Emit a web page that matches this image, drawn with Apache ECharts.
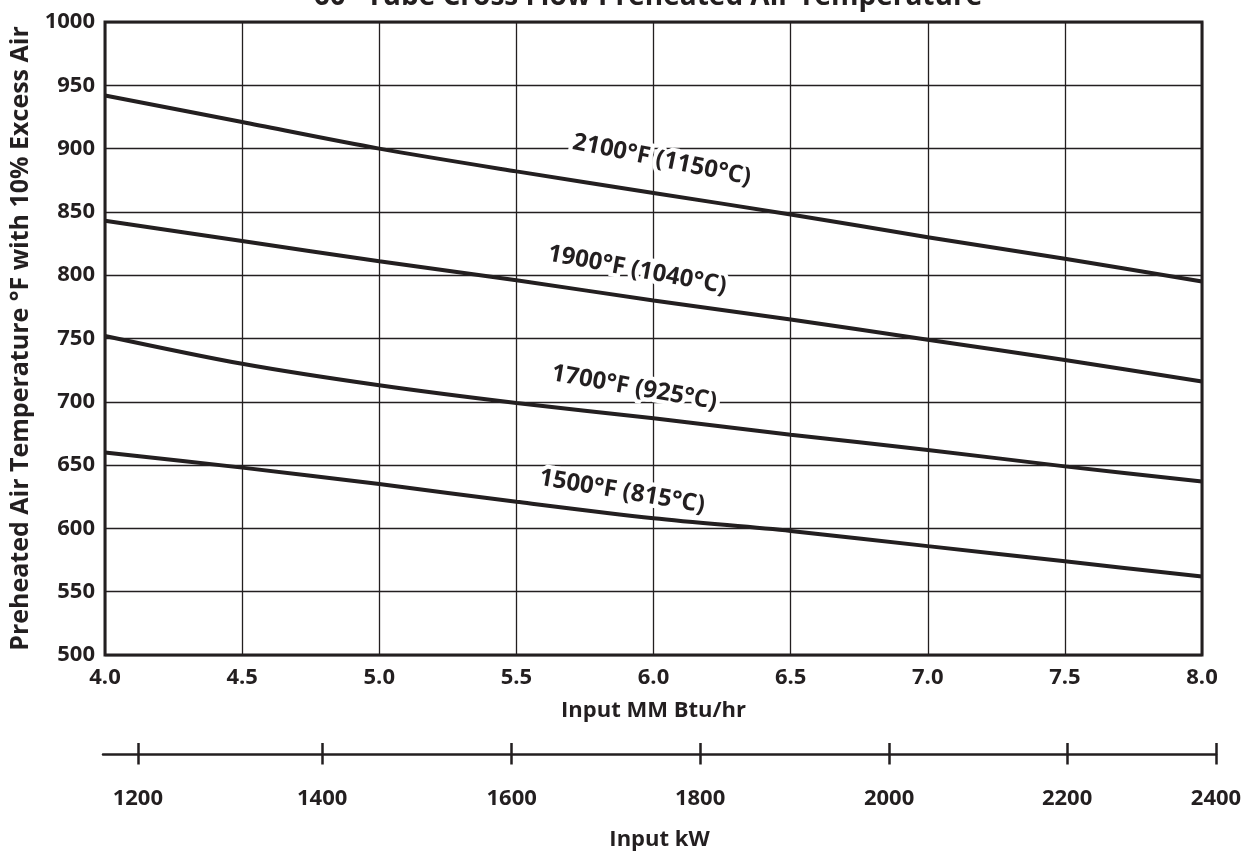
<!DOCTYPE html>
<html>
<head>
<meta charset="utf-8">
<script src="https://cdn.jsdelivr.net/npm/echarts@6/dist/echarts.min.js"></script>
<style>
html,body{margin:0;padding:0;background:#fff;}
#chart{width:1255px;height:852px;}
</style>
</head>
<body>
<div id="chart"></div>
<script>
// ---- data ----
var xValues = [4.0, 4.5, 5.0, 5.5, 6.0, 6.5, 7.0, 7.5, 8.0];
var temp2100 = [942, 921, 900, 882, 865, 848, 830, 813, 795];
var temp1900 = [843, 827, 811, 796, 780, 765, 749, 733, 716];
var temp1700 = [752, 730, 713, 699, 687, 674, 662, 649, 637];
var temp1500 = [660, 648, 635, 621, 608, 598, 586, 574, 562];
var curveNames = ['2100°F (1150°C)', '1900°F (1040°C)', '1700°F (925°C)', '1500°F (815°C)'];
var labelX = [6.03, 5.94, 5.93, 5.885];
var labelY = [891, 804, 711, 629];
var kwTicks = [1200, 1400, 1600, 1800, 2000, 2200, 2400];
var kwTickAtMMBtu = [4.127, 4.799, 5.49, 6.177, 6.866, 7.515, 8.058];

var INK = '#231f20';
var FONT = 'Open Sans';

function pairs(xs, ys){ return xs.map(function(x,i){ return [x, ys[i]]; }); }
var curves = [temp2100, temp1900, temp1700, temp1500];
var angles = [-11.5, -10.5, -10, -9.5];

var series = curves.map(function(c, i){
  return {
    type: 'line',
    xAxisIndex: 0, yAxisIndex: 0,
    data: pairs(xValues, c),
    smooth: 0.3,
    symbol: 'none',
    lineStyle: {color: INK, width: 4},
    z: 3,
    markPoint: {
      symbol: 'circle', symbolSize: 1,
      itemStyle: {color: 'rgba(0,0,0,0)'},
      data: [{coord: [labelX[i], labelY[i]], value: curveNames[i]}],
      label: {
        show: true, position: 'inside', formatter: curveNames[i],
        rotate: angles[i], color: INK, fontFamily: FONT, fontWeight: 'bold', fontSize: 24,
        textBorderColor: '#fff', textBorderWidth: 8
      },
      z: 5
    }
  };
});

var chart = echarts.init(document.getElementById('chart'), null, {renderer: 'canvas'});
chart.setOption({
  backgroundColor: '#fff',
  animation: false,
  title: {
    text: '60" Tube Cross Flow Preheated Air Temperature',
    left: 643, top: -22, textAlign: 'center',
    textStyle: {color: INK, fontFamily: FONT, fontWeight: 'bold', fontSize: 28}
  },
  grid: [
    {left: 103, right: 53, top: 22, bottom: 197, show: true, borderColor: INK, borderWidth: 3, z: 4},
    {left: 103, right: 39, top: 743, height: 23}
  ],
  xAxis: [
    {
      gridIndex: 0, type: 'value', min: 4, max: 8, interval: 0.5,
      axisLine: {show: false}, axisTick: {show: false},
      splitLine: {show: true, lineStyle: {color: INK, width: 1.3}},
      axisLabel: {color: INK, fontFamily: FONT, fontWeight: 'bold', fontSize: 22, margin: 12,
        formatter: function(v){ return v.toFixed(1); }},
      name: 'Input MM Btu/hr', nameLocation: 'middle', nameGap: 45,
      nameTextStyle: {color: INK, fontFamily: FONT, fontWeight: 'bold', fontSize: 22}
    },
    {
      gridIndex: 1, type: 'value', min: 4, max: 8.058,
      axisLine: {show: true, onZero: true, lineStyle: {color: INK, width: 2.5}},
      axisTick: {show: true, length: 10, customValues: kwTickAtMMBtu, lineStyle: {color: INK, width: 2.5}},
      splitLine: {show: false},
      axisLabel: {show: true, customValues: kwTickAtMMBtu, color: INK, fontFamily: FONT, fontWeight: 'bold', fontSize: 22, margin: 22,
        formatter: function(v){
          var best = 0, d = 1e9;
          kwTickAtMMBtu.forEach(function(p, i){ if (Math.abs(p - v) < d) { d = Math.abs(p - v); best = i; } });
          return String(kwTicks[best]);
        }},
      name: 'Input kW', nameLocation: 'middle', nameGap: 63,
      nameTextStyle: {color: INK, fontFamily: FONT, fontWeight: 'bold', fontSize: 22}
    },
    {
      gridIndex: 1, type: 'value', min: 4, max: 8.058, position: 'top',
      axisLine: {show: false},
      axisTick: {show: true, inside: true, length: 13, customValues: kwTickAtMMBtu, lineStyle: {color: INK, width: 2.5}},
      splitLine: {show: false}, axisLabel: {show: false}
    }
  ],
  yAxis: [
    {
      gridIndex: 0, type: 'value', min: 500, max: 1000, interval: 50,
      axisLine: {show: false}, axisTick: {show: false},
      splitLine: {show: true, lineStyle: {color: INK, width: 1.3}},
      axisLabel: {color: INK, fontFamily: FONT, fontWeight: 'bold', fontSize: 22, margin: 10,
        formatter: function(v){ return String(v); }},
      name: 'Preheated Air Temperature °F with 10% Excess Air', nameLocation: 'middle', nameGap: 72,
      nameTextStyle: {color: INK, fontFamily: FONT, fontWeight: 'bold', fontSize: 25}
    },
    {
      gridIndex: 1, type: 'value', min: -1, max: 1, show: false
    }
  ],
  series: series
});
</script>
</body>
</html>
